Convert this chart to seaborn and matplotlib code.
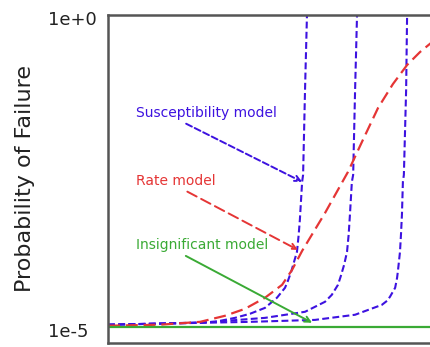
import numpy as np
import pandas as pd
import matplotlib
matplotlib.use("Agg")
import matplotlib.pyplot as plt
import matplotlib.transforms as mtransforms
import seaborn as sns

sns.set_theme(style="white")
plt.rcParams['font.family'] = ['DejaVu Sans']

# Load / time axis (arbitrary units) and failure probability
sus1_x = [0.0, 1.30, 2.54, 3.31, 3.93, 4.40, 4.86, 5.23, 5.48, 5.57, 5.67, 5.76, 5.85, 5.90, 5.94,
          6.01, 6.04, 6.10, 6.16]
sus1_p = [1.08e-5, 1.12e-5, 1.16e-5, 1.20e-5, 1.39e-5, 1.62e-5, 2.01e-5, 2.92e-5, 4.22e-5, 5.46e-5,
          7.6e-5, 1.10e-4, 1.59e-4, 2.87e-4, 5.2e-4, 2.11e-3, 2.73e-3, 6.3e-2, 1.0]
sus2_x = [0.0, 2.85, 4.86, 6.10, 6.72, 6.93, 7.12, 7.21, 7.31, 7.40, 7.45, 7.49, 7.55, 7.59, 7.65, 7.71]
sus2_p = [1.08e-5, 1.16e-5, 1.39e-5, 1.74e-5, 2.52e-5, 3.26e-5, 4.71e-5, 6.56e-5, 9.86e-5, 1.59e-4,
          2.98e-4, 6.24e-4, 2.11e-3, 2.73e-3, 6.3e-2, 1.0]
sus3_x = [0.0, 4.40, 6.41, 7.65, 8.48, 8.64, 8.73, 8.89, 8.95, 8.98, 9.04, 9.07, 9.10, 9.13, 9.16,
          9.23, 9.26]
sus3_p = [1.08e-5, 1.20e-5, 1.29e-5, 1.56e-5, 2.25e-5, 2.61e-5, 3.03e-5, 4.22e-5, 6.1e-5, 8.2e-5,
          1.59e-4, 2.98e-4, 6.24e-4, 2.11e-3, 2.73e-3, 6.3e-2, 1.0]
rate_x = [0.0, 1.61, 2.85, 3.62, 4.24, 4.86, 5.39, 5.70, 6.01, 6.72, 7.43, 7.89, 8.36, 8.82, 9.26,
          9.66, 10.0]
rate_p = [1.04e-5, 1.08e-5, 1.20e-5, 1.50e-5, 1.94e-5, 2.92e-5, 4.71e-5, 8.2e-5, 1.65e-4, 6.7e-4,
          3.05e-3, 9.9e-3, 3.23e-2, 7.8e-2, 0.158, 0.255, 0.356]
insig_x = [0.0, 10.0]
insig_p = [1e-5, 1e-5]

y_ticks = [1e0, 1e-5]
y_tick_labels = ["1e+0", "1e-5"]

BLUE = "#3d12e0"
RED = "#e53535"
GREEN = "#3aaa35"
BLUE_DASH = (0, (3.3, 1.6))
RED_DASH = (0, (5.4, 2.6))

fig = plt.figure(figsize=(4.31, 3.47), dpi=100)
ax = fig.add_axes([108 / 431, 1 - 343 / 347, 1 - 108 / 431, (343 - 15) / 347])

for xs, ps in [(sus1_x, sus1_p), (sus2_x, sus2_p), (sus3_x, sus3_p)]:
    sns.lineplot(data=pd.DataFrame({"x": xs, "p": ps}), x="x", y="p", ax=ax,
                 color=BLUE, lw=1.5, sort=False, linestyle=BLUE_DASH)
sns.lineplot(data=pd.DataFrame({"x": rate_x, "p": rate_p}), x="x", y="p", ax=ax,
             color=RED, lw=1.6, sort=False, linestyle=RED_DASH)
sns.lineplot(data=pd.DataFrame({"x": insig_x, "p": insig_p}), x="x", y="p", ax=ax,
             color=GREEN, lw=1.6)

ax.set_yscale("log")
ax.set_xlim(0, 10)
ax.set_ylim(10 ** -5.26, 1.0)
ax.set_xticks([])
ax.set_yticks(y_ticks)
ax.set_yticklabels(y_tick_labels, ha="left")
ax.minorticks_off()
ax.tick_params(axis="y", length=0, pad=43, labelsize=13, labelcolor="#222222")
shift = mtransforms.ScaledTranslation(0, -2.5 / 72, fig.dpi_scale_trans)
for lab in ax.get_yticklabels():
    lab.set_transform(lab.get_transform() + shift)
ax.set_xlabel("")
ax.set_ylabel("Probability of Failure", fontsize=16, color="#222222", labelpad=9.5)
for side in ["left", "top", "bottom"]:
    ax.spines[side].set_color("#555555")
    ax.spines[side].set_linewidth(1.8)
ax.spines["right"].set_visible(False)

# Annotations pointing at each model
ax.annotate("Susceptibility model", xy=(6.01, 2.11e-3), xytext=(0.87, 2.7e-2),
            color=BLUE, fontsize=10, va="center",
            arrowprops=dict(arrowstyle="->", color=BLUE, lw=1.4, linestyle=BLUE_DASH,
                            shrinkA=1, shrinkB=0, relpos=(0.3, 0.0)))
ax.annotate("Rate model", xy=(5.88, 1.71e-4), xytext=(0.87, 2.2e-3),
            color=RED, fontsize=10, va="center",
            arrowprops=dict(arrowstyle="->", color=RED, lw=1.4, linestyle=RED_DASH,
                            shrinkA=1, shrinkB=0, relpos=(0.55, 0.0)))
ax.annotate("Insignificant model", xy=(6.32, 1.16e-5), xytext=(0.87, 2.05e-4),
            color=GREEN, fontsize=10, va="center",
            arrowprops=dict(arrowstyle="->", color=GREEN, lw=1.4,
                            shrinkA=1, shrinkB=0, relpos=(0.32, 0.0)))

fig.savefig("out.png", dpi=100)
